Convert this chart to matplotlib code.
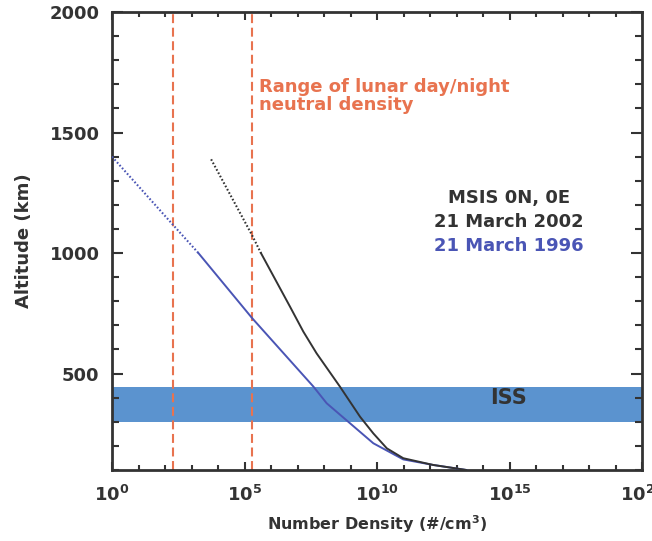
import numpy as np
import matplotlib
matplotlib.use("Agg")
import matplotlib.pyplot as plt
from matplotlib.ticker import FixedLocator, FuncFormatter, NullFormatter

plt.rcParams['font.family'] = ['DejaVu Sans']
plt.rcParams['font.weight'] = 'bold'
plt.rcParams['mathtext.fontset'] = 'dejavusans'
plt.rcParams['mathtext.default'] = 'bf'

# --- data (log10 of number density, altitude km) ---
blue_logn = [0.0, 2.31, 3.26, 5.28, 7.60, 8.10, 8.98, 9.86, 10.99, 12.12, 13.38]
blue_alt  = [1400, 1116, 1000, 731, 446, 377, 294, 211, 144, 121, 100]
black_logn = [3.74, 5.28, 5.62, 6.72, 7.22, 7.72, 8.60, 9.36, 9.86, 10.37, 10.99, 12.12, 13.38]
black_alt  = [1389, 1075, 1000, 777, 674, 584, 446, 321, 252, 190, 149, 121, 100]
lunar_range_logn = [2.31, 5.29]
iss_band = [300, 445]
x_ticks_exp = [0, 5, 10, 15, 20]
y_ticks = [500, 1000, 1500, 2000]

C_DARK = '#333333'
C_BLUE = '#4a55b5'
C_ORANGE = '#e8734f'
C_BAND = '#5b93cf'

fig = plt.figure(figsize=(6.52, 5.41), dpi=100)
ax = fig.add_axes([0.1718, 0.1312, 0.8129, 0.8466])

ax.set_xscale('log')
ax.set_xlim(1e0, 1e20)
ax.set_ylim(100, 2000)

ax.axhspan(iss_band[0], iss_band[1], color=C_BAND, lw=0, zorder=1)
ax.text(10**14.98, 399, 'ISS', color=C_DARK, fontsize=15, fontweight='bold',
        ha='center', va='center', zorder=5)

for xv in lunar_range_logn:
    ax.axvline(10**xv, color=C_ORANGE, lw=1.5, ls=(0, (4.3, 2.2)), zorder=2)


def plot_profile(logn, alt, color):
    logn = np.array(logn)
    alt = np.array(alt, dtype=float)
    n = 10**logn
    hi = alt >= 1000
    lo = alt <= 1000
    # upper portion dotted, lower portion solid
    ax.plot(n[hi], alt[hi], color=color, lw=1.5, ls=(0, (0.8, 1.0)), zorder=3)
    ax.plot(n[lo], alt[lo], color=color, lw=1.4, zorder=3)

plot_profile(blue_logn, blue_alt, C_BLUE)
plot_profile(black_logn, black_alt, C_DARK)

ax.text(10**5.55, 1728, 'Range of lunar day/night\nneutral density', color=C_ORANGE,
        fontsize=13, fontweight='bold', ha='left', va='top', linespacing=1.0)

ax.text(10**14.98, 1228, 'MSIS 0N, 0E', color=C_DARK, fontsize=13, fontweight='bold',
        ha='center', va='center')
ax.text(10**14.98, 1129, '21 March 2002', color=C_DARK, fontsize=13, fontweight='bold',
        ha='center', va='center')
ax.text(10**14.98, 1029, '21 March 1996', color=C_BLUE, fontsize=13, fontweight='bold',
        ha='center', va='center')

# ticks
ax.xaxis.set_major_locator(FixedLocator([10.0**e for e in x_ticks_exp]))
ax.xaxis.set_minor_locator(FixedLocator([10.0**e for e in range(0, 21) if e % 5 != 0]))
ax.xaxis.set_major_formatter(FuncFormatter(lambda v, p: r'$\mathbf{10^{%d}}$' % round(np.log10(v))))
ax.xaxis.set_minor_formatter(NullFormatter())
ax.yaxis.set_major_locator(FixedLocator(y_ticks))
ax.yaxis.set_minor_locator(FixedLocator([v for v in range(100, 2001, 100) if v % 500 != 0]))

ax.tick_params(which='both', direction='in', top=True, right=True, color=C_DARK,
               labelcolor=C_DARK, width=1.5, labelsize=13)
ax.tick_params(axis='y', which='major', length=8, pad=9)
ax.tick_params(axis='y', which='minor', length=5)
ax.tick_params(axis='x', which='major', length=6, pad=11)
ax.tick_params(axis='x', which='minor', length=3.3)
for lab in ax.get_yticklabels():
    lab.set_fontweight('bold')

for s in ax.spines.values():
    s.set_color(C_DARK)
    s.set_linewidth(2)

ax.set_xlabel(r'Number Density (#/cm$^\mathbf{3}$)', fontsize=11.5, fontweight='bold',
              color=C_DARK, labelpad=6)
ax.set_ylabel('Altitude (km)', fontsize=13, fontweight='bold', color=C_DARK, labelpad=12)

fig.savefig('out.png', dpi=100)
